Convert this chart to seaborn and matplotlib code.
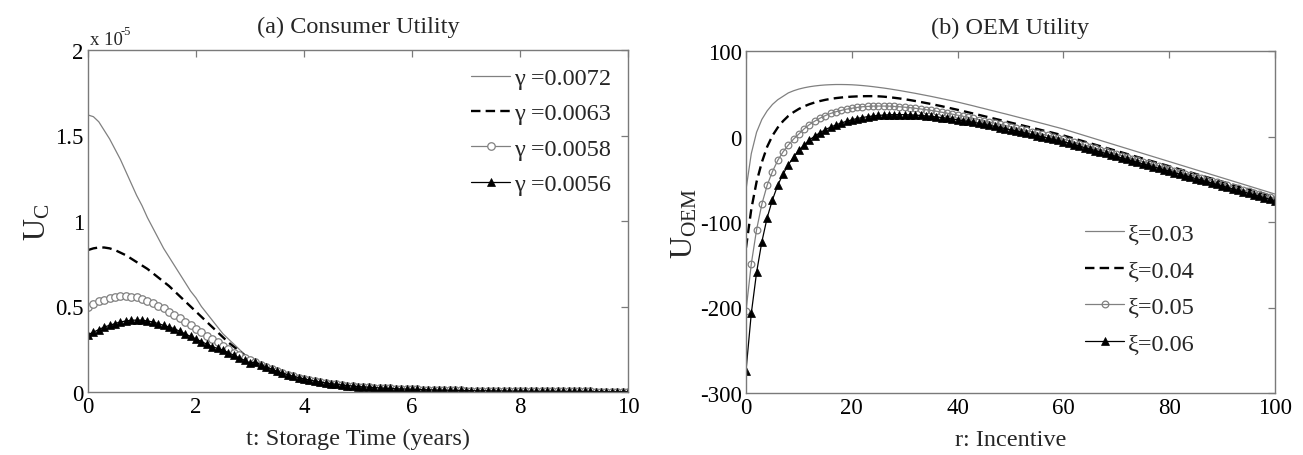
import numpy as np
import matplotlib
matplotlib.use("Agg")
import matplotlib.pyplot as plt
import seaborn as sns

# ---------------- data: panel (a) Consumer Utility (values in units of 1e-5) -------------
t_years = np.round(np.arange(0, 10.01, 0.1), 1)
gamma_labels = ["γ =0.0072", "γ =0.0063", "γ =0.0058", "γ =0.0056"]

uc_0072_head = [1.62, 1.61, 1.58, 1.53, 1.48, 1.42, 1.36, 1.29, 1.22, 1.15,
                1.09, 1.02, 0.96, 0.90, 0.84, 0.79, 0.74, 0.69, 0.64, 0.59,
                0.55, 0.50, 0.46, 0.42, 0.38, 0.34, 0.31, 0.28, 0.25, 0.22, 0.195]
uc_0063_head = [0.83, 0.84, 0.845, 0.845, 0.84, 0.83, 0.815, 0.80, 0.78, 0.76,
                0.74, 0.72, 0.695, 0.67, 0.645, 0.62, 0.59, 0.56, 0.53, 0.50,
                0.47, 0.44, 0.41, 0.38, 0.35, 0.32, 0.29, 0.265, 0.24, 0.215, 0.19]
uc_0058_head = [0.50, 0.515, 0.53, 0.54, 0.55, 0.555, 0.56, 0.56, 0.558, 0.553,
                0.545, 0.535, 0.52, 0.505, 0.49, 0.47, 0.45, 0.43, 0.41, 0.39,
                0.37, 0.35, 0.33, 0.31, 0.29, 0.27, 0.25, 0.23, 0.215, 0.20, 0.185]
uc_0056_head = [0.335, 0.35, 0.365, 0.38, 0.39, 0.40, 0.41, 0.415, 0.42, 0.42,
                0.42, 0.415, 0.41, 0.40, 0.39, 0.38, 0.37, 0.355, 0.34, 0.325,
                0.31, 0.295, 0.28, 0.265, 0.255, 0.245, 0.23, 0.215, 0.20, 0.185, 0.17]
# common tail, t = 3.1 ... 10.0 (curves overlap there)
uc_tail = [0.175, 0.16, 0.147, 0.134, 0.122, 0.111, 0.101, 0.092, 0.084, 0.077,
           0.070, 0.064, 0.058, 0.053, 0.049, 0.045, 0.041, 0.038, 0.035, 0.032,
           0.030, 0.028, 0.026, 0.024, 0.022, 0.021, 0.019, 0.018, 0.017, 0.016,
           0.015, 0.014, 0.013, 0.012, 0.011, 0.011, 0.010, 0.009, 0.009, 0.008,
           0.008, 0.007, 0.007, 0.007, 0.006, 0.006, 0.006, 0.005, 0.005, 0.005,
           0.005, 0.004, 0.004, 0.004, 0.004, 0.004, 0.003, 0.003, 0.003, 0.003,
           0.003, 0.003, 0.003, 0.002, 0.002, 0.002, 0.002, 0.002, 0.002, 0.002]

uc_series = [uc_0072_head + uc_tail, uc_0063_head + uc_tail,
             uc_0058_head + uc_tail, uc_0056_head + uc_tail]

# ---------------- data: panel (b) OEM Utility ----------------
r_incentive = np.arange(0, 101, 1)
xi_labels = ["ξ=0.03", "ξ=0.04", "ξ=0.05", "ξ=0.06"]

oem_003 = [-62, -20, 5, 20, 30, 37.5, 43, 47, 51, 53.5, 55.5,
           57, 58.2, 59.1, 59.8, 60.3, 60.6, 60.8, 60.8, 60.7, 60.5,
           60.1, 59.6, 59.0, 58.3, 57.5, 56.7, 55.8, 54.8, 53.8, 52.7,
           51.6, 50.5, 49.3, 48.1, 46.9, 45.6, 44.3, 43.0, 41.7, 40.3,
           38.8, 37.3, 35.8, 34.2, 32.7, 31.1, 29.6, 28.0, 26.5, 24.9,
           23.3, 21.7, 20.1, 18.5, 16.9, 15.3, 13.7, 12.0, 10.4, 8.7,
           6.8, 4.9, 3.0, 1.1, -0.8, -2.7, -4.6, -6.5, -8.4, -10.3,
           -12.2, -14.1, -16.0, -17.9, -19.8, -21.7, -23.6, -25.5, -27.4, -29.3,
           -31.2, -33.1, -35.0, -36.9, -38.8, -40.7, -42.6, -44.5, -46.4, -48.3,
           -50.2, -52.1, -54.0, -55.9, -57.8, -59.7, -61.6, -63.5, -65.4, -67.3]
oem_004 = [-130, -85, -53, -30, -12, 1, 10.5, 18, 24, 28.5, 32.3,
           35.3, 37.8, 39.8, 41.5, 42.9, 44.0, 44.9, 45.6, 46.2, 46.6,
           46.9, 47.1, 47.2, 47.2, 47.0, 46.6, 46.0, 45.3, 44.5, 43.6,
           42.6, 41.5, 40.4, 39.2, 38.0, 36.7, 35.4, 34.0, 32.6, 31.2,
           29.8, 28.3, 26.8, 25.3, 23.8, 22.3, 20.8, 19.3, 17.8, 16.3,
           14.8, 13.3, 11.8, 10.3, 8.8, 7.3, 5.8, 4.3, 2.7, 1.2,
           -0.6, -2.4, -4.2, -6.0, -7.8, -9.6, -11.4, -13.2, -15.0, -16.8,
           -18.6, -20.4, -22.2, -24.0, -25.8, -27.6, -29.4, -31.2, -33.0, -34.8,
           -36.6, -38.4, -40.2, -42.0, -43.8, -45.6, -47.4, -49.2, -51.0, -52.8,
           -54.6, -56.4, -58.2, -60.0, -61.8, -63.6, -65.4, -67.2, -69.0, -70.8]
oem_005 = [-204, -149, -109, -79, -57, -41, -28, -18, -10, -3, 3,
           9, 14, 18, 21.5, 24.5, 27, 29, 30.5, 32, 33,
           34, 34.8, 35.2, 35.5, 35.6, 35.6, 35.5, 35.2, 34.8, 34.3,
           33.7, 33.0, 32.2, 31.4, 30.5, 29.5, 28.4, 27.3, 26.1, 24.9,
           23.7, 22.4, 21.1, 19.8, 18.5, 17.1, 15.7, 14.3, 12.9, 11.5,
           10.0, 8.6, 7.1, 5.7, 4.2, 2.8, 1.3, -0.1, -1.6, -3.0,
           -4.8, -6.5, -8.3, -10.0, -11.8, -13.5, -15.3, -17.0, -18.8, -20.5,
           -22.3, -24.0, -25.8, -27.5, -29.3, -31.0, -32.8, -34.5, -36.3, -38.0,
           -39.8, -41.5, -43.3, -45.0, -46.8, -48.5, -50.3, -52.0, -53.8, -55.5,
           -57.3, -59.0, -60.8, -62.5, -64.3, -66.0, -67.8, -69.5, -71.3, -73.0]
oem_006 = [-274, -207, -159, -123, -95, -74, -57, -44, -33, -24, -16,
           -10, -4, 0.5, 4.5, 8, 11, 13.5, 15.8, 17.8, 19.5,
           21, 22.2, 23.2, 24, 24.6, 25.1, 25.4, 25.6, 25.6, 25.5,
           25.3, 25.0, 24.6, 24.1, 23.5, 22.9, 22.2, 21.4, 20.5, 19.6,
           18.6, 17.6, 16.5, 15.4, 14.2, 13.0, 11.8, 10.5, 9.2, 7.9,
           6.6, 5.2, 3.8, 2.4, 1.0, -0.4, -1.8, -3.2, -4.6, -6.0,
           -7.7, -9.5, -11.2, -12.9, -14.7, -16.4, -18.1, -19.8, -21.6, -23.3,
           -25.0, -26.7, -28.5, -30.2, -31.9, -33.6, -35.4, -37.1, -38.8, -40.5,
           -42.3, -44.0, -45.7, -47.4, -49.2, -50.9, -52.6, -54.3, -56.1, -57.8,
           -59.5, -61.2, -63.0, -64.7, -66.4, -68.1, -69.9, -71.6, -73.3, -75.0]
oem_series = [oem_003, oem_004, oem_005, oem_006]

left_xticks = [0, 2, 4, 6, 8, 10]
left_yticks = [0, 0.5, 1, 1.5, 2]
left_yticklabels = ["0", "0.5", "1", "1.5", "2"]
right_xticks = [0, 20, 40, 60, 80, 100]
right_yticks = [-300, -200, -100, 0, 100]

# ---------------- styling ----------------
sns.set_theme(style="white")
plt.rcParams["font.family"] = ["Liberation Serif", "DejaVu Serif"]
plt.rcParams["mathtext.fontset"] = "custom"
plt.rcParams["mathtext.rm"] = "Liberation Serif"
plt.rcParams["mathtext.it"] = "Liberation Serif:italic"
plt.rcParams["axes.unicode_minus"] = False

GRAY = "#7a7a7a"


def make_styles(ms_circle, ms_tri):
    return [
        dict(color="#808080", lw=0.9, linestyle="-"),
        dict(color="black", lw=1.7, linestyle=(0, (4, 2.2))),
        dict(color="#808080", lw=0.9, linestyle="-", marker="o", markersize=ms_circle,
             markerfacecolor="white", markeredgecolor="#808080", markeredgewidth=0.9),
        dict(color="black", lw=0.9, linestyle="-", marker="^", markersize=ms_tri,
             markerfacecolor="black", markeredgecolor="black", markeredgewidth=0.5),
    ]


fig = plt.figure(figsize=(13.03, 4.56), dpi=100)
ax1 = fig.add_axes([88 / 1303, 1 - 393 / 456, 540 / 1303, 342 / 456])
ax2 = fig.add_axes([746 / 1303, 1 - 394 / 456, 529 / 1303, 342 / 456])

for vals, lab, st in zip(uc_series, gamma_labels, make_styles(5.4, 5.6)):
    sns.lineplot(x=t_years, y=vals, ax=ax1, label=lab, **st)

for i, (vals, lab, st) in enumerate(zip(oem_series, xi_labels, make_styles(4.8, 5.2))):
    if i == 2:
        st["markerfacecolor"] = "none"
    sns.lineplot(x=r_incentive, y=vals, ax=ax2, label=lab, **st)


def style_axes(ax):
    for s in ax.spines.values():
        s.set_color(GRAY)
        s.set_linewidth(1.0)
    ax.tick_params(direction="in", top=True, right=True, length=5, width=0.9,
                   color=GRAY, labelsize=16.5, labelcolor="black", pad=3)


ax1.set_xlim(0, 10)
ax1.set_ylim(0, 2)
ax1.set_xticks(left_xticks)
ax1.set_yticks(left_yticks)
ax1.set_yticklabels(left_yticklabels)
style_axes(ax1)
ax1.set_title("(a) Consumer Utility", fontsize=17.5, pad=13)
ax1.set_xlabel("t: Storage Time (years)", fontsize=17.5, labelpad=8)
ax1.set_ylabel(r"$\mathrm{U_C}$", fontsize=22, labelpad=2)
ax1.text(0.003, 1.006, "x 10", transform=ax1.transAxes, fontsize=13.5,
         ha="left", va="bottom")
ax1.text(0.06, 1.037, "-5", transform=ax1.transAxes, fontsize=9,
         ha="left", va="bottom")
ax1.legend(loc="upper right", frameon=False, fontsize=17.5, handlelength=1.6,
           handletextpad=0.15, labelspacing=0.55, borderaxespad=0.3)

ax2.set_xlim(0, 100)
ax2.set_ylim(-300, 100)
ax2.set_xticks(right_xticks)
ax2.set_yticks(right_yticks)
style_axes(ax2)
ax2.set_title("(b) OEM Utility", fontsize=17.5, pad=13)
ax2.set_xlabel("r: Incentive", fontsize=17.5, labelpad=8)
ax2.set_ylabel(r"$\mathrm{U_{OEM}}$", fontsize=22, labelpad=0)
ax2.legend(loc="center left", bbox_to_anchor=(0.6, 0.305), frameon=False,
           fontsize=17.5, handlelength=1.6, handletextpad=0.15, labelspacing=0.6)

fig.savefig("out.png", dpi=100)
